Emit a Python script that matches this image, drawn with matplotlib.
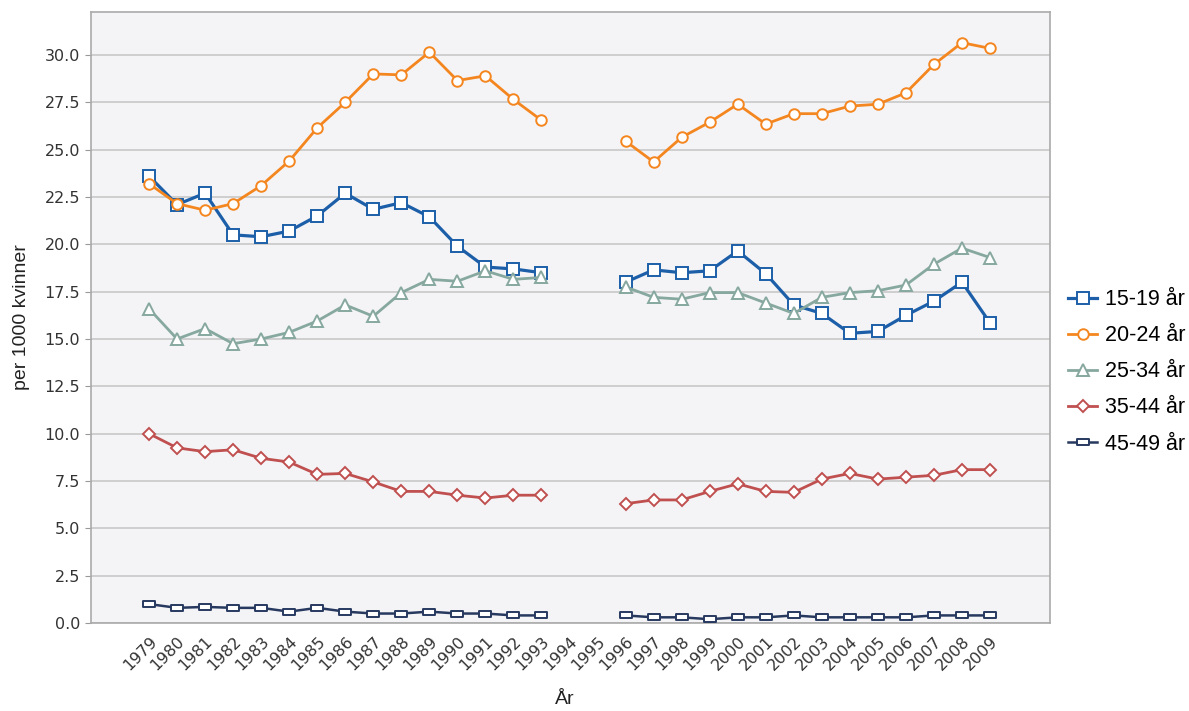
import numpy as np
import matplotlib
matplotlib.use("Agg")
import matplotlib.pyplot as plt
from matplotlib.path import Path

plt.rcParams['font.family'] = ['Liberation Sans', 'DejaVu Sans']

years = list(range(1979, 2010))
nan = np.nan

s15_19 = [23.6, 22.1, 22.7, 20.5, 20.4, 20.7, 21.5, 22.7, 21.85, 22.2, 21.45, 19.9, 18.8, 18.7, 18.5,
          nan, nan,
          18.0, 18.65, 18.5, 18.6, 19.65, 18.45, 16.8, 16.35, 15.3, 15.4, 16.25, 17.0, 18.0, 15.85]
s20_24 = [23.2, 22.15, 21.8, 22.15, 23.1, 24.4, 26.15, 27.5, 29.0, 28.95, 30.15, 28.65, 28.9, 27.65, 26.55,
          nan, nan,
          25.45, 24.35, 25.65, 26.45, 27.4, 26.35, 26.9, 26.9, 27.3, 27.4, 28.0, 29.5, 30.65, 30.35]
s25_34 = [16.6, 15.0, 15.55, 14.75, 15.0, 15.35, 15.95, 16.8, 16.2, 17.45, 18.15, 18.05, 18.6, 18.15, 18.25,
          nan, nan,
          17.75, 17.2, 17.1, 17.45, 17.45, 16.9, 16.35, 17.2, 17.45, 17.55, 17.85, 18.95, 19.8, 19.3]
s35_44 = [10.0, 9.25, 9.05, 9.15, 8.7, 8.5, 7.85, 7.9, 7.45, 6.95, 6.95, 6.75, 6.6, 6.75, 6.75,
          nan, nan,
          6.3, 6.5, 6.5, 6.95, 7.35, 6.95, 6.9, 7.6, 7.9, 7.6, 7.7, 7.8, 8.1, 8.1]
s45_49 = [1.0, 0.8, 0.85, 0.8, 0.8, 0.6, 0.8, 0.6, 0.5, 0.5, 0.6, 0.5, 0.5, 0.4, 0.4,
          nan, nan,
          0.4, 0.3, 0.3, 0.2, 0.3, 0.3, 0.4, 0.3, 0.3, 0.3, 0.3, 0.4, 0.4, 0.4]

labels = ["15-19 år", "20-24 år", "25-34 år", "35-44 år", "45-49 år"]
series = [s15_19, s20_24, s25_34, s35_44, s45_49]
colors = ["#1c5fa8", "#f4861f", "#86a89f", "#c0504f", "#27395f"]

# flat rectangle marker for 45-49
flat = Path([(-1, -0.45), (1, -0.45), (1, 0.45), (-1, 0.45), (-1, -0.45)],
            [Path.MOVETO, Path.LINETO, Path.LINETO, Path.LINETO, Path.CLOSEPOLY])
markers = ["s", "o", "^", "D", flat]
msizes = [8.0, 7.6, 8.5, 6.0, 9.0]
lws = [2.3, 2.0, 2.0, 2.0, 1.8]

fig = plt.figure(figsize=(11.89, 7.11), dpi=100)
ax = fig.add_axes([91/1189, 88/711, (1050-91)/1189, (623-12)/711])
ax.set_facecolor("#f4f4f7")

for vals, lab, c, m, ms, lw in zip(series, labels, colors, markers, msizes, lws):
    ax.plot(years, vals, color=c, lw=lw, marker=m, markersize=ms,
            markerfacecolor="white", markeredgecolor=c, markeredgewidth=1.4,
            label=lab, zorder=3)

ax.set_xlim(1976.93, 2011.14)
ax.set_ylim(0, 32.27)
ax.set_yticks(np.arange(0, 30.01, 2.5))
ax.set_yticklabels([f"{v:.1f}" for v in np.arange(0, 30.01, 2.5)], fontsize=11.5,
                   color="#333333", family="DejaVu Sans")
ax.set_xticks(years)
ax.set_xticklabels([str(y) for y in years], rotation=45, ha="right", va="top",
                   rotation_mode="anchor", fontsize=11.5, color="#333333", family="DejaVu Sans")
ax.tick_params(axis="x", length=0, pad=8)
ax.tick_params(axis="y", length=4, color="#999999", pad=4)
ax.grid(axis="y", color="#c8c8c8", lw=1.2)
ax.set_axisbelow(True)
for sp in ax.spines.values():
    sp.set_color("#aaaaaa")
    sp.set_linewidth(1.2)

ax.set_ylabel("per 1000 kvinner", fontsize=14, color="#222222", labelpad=10)
fig.text(565/1189, 1 - 700/711, "År", fontsize=14, color="#222222", ha="center", va="center")

leg = ax.legend(loc="center left", bbox_to_anchor=(1.0188, 0.411), frameon=False,
                fontsize=15.5, handlelength=1.35, labelspacing=0.7, handletextpad=0.37,
                borderpad=0, borderaxespad=0)

fig.savefig("out.png", dpi=100)
